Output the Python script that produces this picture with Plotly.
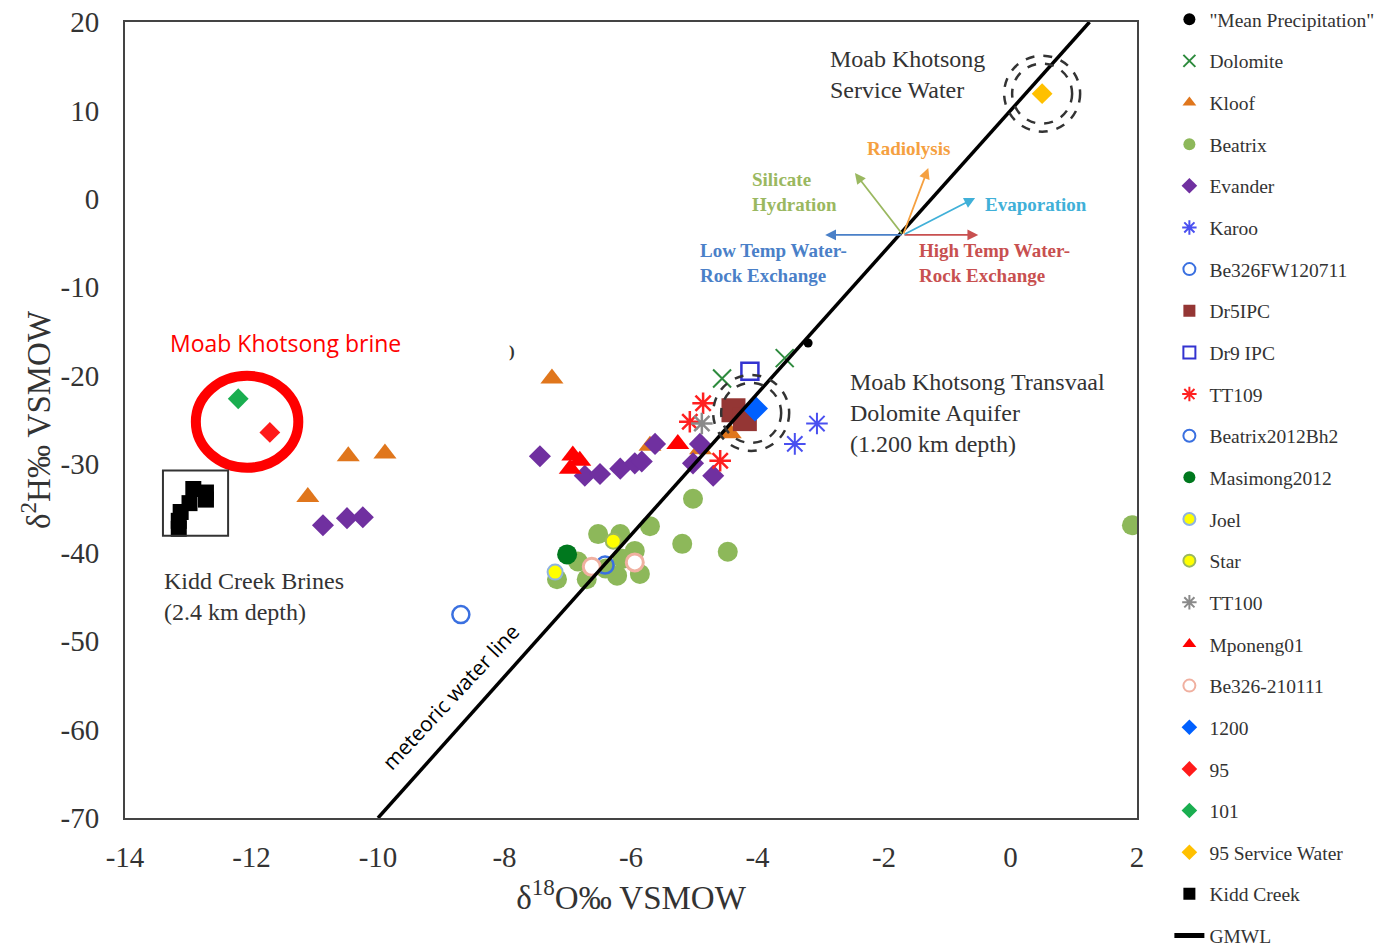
import plotly.graph_objects as go

# ---------------- data ----------------
mean_precip_x = [-3.2]
mean_precip_y = [-16.3]

dolomite_x = [-4.56, -3.57]
dolomite_y = [-20.3, -18.0]

kloof_x = [-11.11, -10.47, -9.89, -7.25, -5.70, -4.90, -4.43]
kloof_y = [-33.7, -29.1, -28.8, -20.3, -27.9, -28.3, -26.5]

beatrix_x = [-5.02, -5.70, -5.19, -4.47, -6.52, -6.17, -5.94, -7.17, -6.70,
             -6.22, -5.86, -6.84, -6.13, -6.40, 1.92]
beatrix_y = [-33.9, -37.0, -39.0, -39.9, -37.9, -37.9, -39.8, -43.0, -43.0,
             -42.6, -42.4, -41.0, -40.7, -41.8, -36.9]

evander_x = [-10.87, -10.49, -10.24, -7.44, -6.73, -6.49, -6.17, -5.94, -5.83,
             -5.62, -5.02, -4.91, -4.70]
evander_y = [-36.9, -36.1, -36.0, -29.1, -31.3, -31.1, -30.5, -29.9, -29.7,
             -27.7, -29.9, -27.7, -31.3]

karoo_x = [-3.41, -3.06]
karoo_y = [-27.7, -25.4]

be326fw_x = [-8.69]
be326fw_y = [-47.0]

dr5ipc_x = [-4.38, -4.20]
dr5ipc_y = [-23.9, -24.9]

dr9ipc_x = [-4.12]
dr9ipc_y = [-19.5]

tt109_x = [-4.86, -5.07, -4.59]
tt109_y = [-23.1, -25.2, -29.6]

beatrix2012_x = [-6.41]
beatrix2012_y = [-41.4]

masimong_x = [-7.01]
masimong_y = [-40.2]

joel_x = [-7.20]
joel_y = [-42.2]

star_x = [-6.28]
star_y = [-38.7]

tt100_x = [-4.88]
tt100_y = [-25.4]

mponeng_x = [-6.92, -6.81, -6.96, -5.26]
mponeng_y = [-29.0, -29.6, -30.5, -27.7]

be326_210111_x = [-6.62, -5.94]
be326_210111_y = [-41.6, -41.1]

s1200_x = [-4.04]
s1200_y = [-23.7]

s95_x = [-11.71]
s95_y = [-26.4]

s101_x = [-12.21]
s101_y = [-22.6]

service_x = [0.50]
service_y = [11.9]

kidd_x = [-12.92, -12.72, -12.72, -12.98, -13.12, -13.15, -13.15]
kidd_y = [-32.8, -33.2, -34.0, -34.4, -35.4, -36.4, -37.3]

gmwl_x = [-10.0, 1.25]
gmwl_y = [-70.0, 20.0]

x_ticks = [-14, -12, -10, -8, -6, -4, -2, 0, 2]
y_ticks = [20, 10, 0, -10, -20, -30, -40, -50, -60, -70]

SERIF = "Liberation Serif"

fig = go.Figure()

def add(name, xs, ys, symbol, color, size, line_color=None, line_width=0, fill=None):
    fig.add_trace(go.Scatter(
        x=xs, y=ys, mode="markers", name=name, legendgroup=name,
        marker=dict(symbol=symbol, size=size,
                    color=color if fill is None else fill,
                    line=dict(color=line_color if line_color else color, width=line_width)),
    ))

add('"Mean Precipitation"', mean_precip_x, mean_precip_y, "circle", "#000000", 9)
add("Dolomite", dolomite_x, dolomite_y, "x-thin-open", "#2e8b3e", 18, line_width=2)
add("Kloof", kloof_x, kloof_y, "triangle-up", "#e0761c", 20)
add("Beatrix", beatrix_x, beatrix_y, "circle", "#8db85a", 20)
add("Evander", evander_x, evander_y, "diamond", "#7030a0", 17)
add("Karoo", karoo_x, karoo_y, "asterisk-open", "#4a50f0", 18, line_width=2)
add("Be326FW120711", be326fw_x, be326fw_y, "circle-open", "#3a70e0", 17, line_width=2.5)
add("Dr5IPC", dr5ipc_x, dr5ipc_y, "square", "#943634", 24)
add("Dr9 IPC", dr9ipc_x, dr9ipc_y, "square-open", "#3333d0", 17, line_width=2.5)
add("TT109", tt109_x, tt109_y, "asterisk-open", "#ff2020", 18, line_width=2.5)
add("Beatrix2012Bh2", beatrix2012_x, beatrix2012_y, "circle-open", "#3a70e0", 17, line_width=2.5)
add("Masimong2012", masimong_x, masimong_y, "circle", "#00781e", 20)
add("Joel", joel_x, joel_y, "circle", "#ffff00", 15, line_color="#8fb3e0", line_width=2)
add("Star", star_x, star_y, "circle", "#ffff00", 15, line_color="#9ab860", line_width=2)
add("TT100", tt100_x, tt100_y, "asterisk-open", "#8a8a8a", 18, line_width=2.5)
add("Mponeng01", mponeng_x, mponeng_y, "triangle-up", "#ff0000", 20)
add("Be326-210111", be326_210111_x, be326_210111_y, "circle", "#ffffff", 17,
    line_color="#f0b0a0", line_width=3, fill="#ffffff")
add("1200", s1200_x, s1200_y, "diamond", "#0060ff", 20)
add("95", s95_x, s95_y, "diamond", "#ff1a1a", 16)
add("101", s101_x, s101_y, "diamond", "#1aae50", 16)
add("95 Service Water", service_x, service_y, "diamond", "#ffc000", 16)
add("Kidd Creek", kidd_x, kidd_y, "square", "#000000", 16)

fig.add_trace(go.Scatter(x=gmwl_x, y=gmwl_y, mode="lines", name="GMWL", legendgroup="GMWL",
                         line=dict(color="#000000", width=3.5)))

shapes = []
# double dashed circles
for cx, cy in [(0.50, 11.9), (-4.10, -24.2)]:
    for r in (38, 30):
        rx = r / 63.25
        ry = r / 8.844
        shapes.append(dict(type="circle", xref="x", yref="y",
                           x0=cx - rx, x1=cx + rx, y0=cy - ry, y1=cy + ry,
                           line=dict(color="#333333", width=2.5, dash="dash")))
# red ellipse around Moab Khotsong brine
shapes.append(dict(type="circle", xref="x", yref="y", x0=-12.88, x1=-11.26, y0=-30.4, y1=-20.0,
                   line=dict(color="#ff0000", width=10)))
# box around Kidd Creek
shapes.append(dict(type="rect", xref="x", yref="y", x0=-13.40, x1=-12.37, y0=-38.1, y1=-30.7,
                   line=dict(color="#333333", width=2)))

ann = []
ox, oy = -1.70, -4.08
arrows = [(-2.93, -4.08, "#4a80c8"), (-0.51, -4.08, "#c85050"), (-0.56, 0.10, "#40b0d8"),
          (-1.30, 3.49, "#f5a040"), (-2.46, 2.93, "#9ab860")]
for tx, ty, col in arrows:
    ann.append(dict(x=tx, y=ty, ax=ox, ay=oy, xref="x", yref="y", axref="x", ayref="y",
                    showarrow=True, arrowhead=2, arrowsize=1.2, arrowwidth=1.8, arrowcolor=col,
                    text=""))

def txt(x, y, s, size, color="#333333", bold=False, anchor="left", family=SERIF, angle=0):
    ann.append(dict(x=x, y=y, xref="x", yref="y", text=("<b>%s</b>" % s) if bold else s,
                    showarrow=False, xanchor=anchor, yanchor="middle", align="left",
                    textangle=angle,
                    font=dict(family=family, size=size, color=color)))

txt(-2.30, 5.75, "Radiolysis", 19, "#f5a040", True)
txt(-4.12, 0.78, "Silicate<br>Hydration", 19, "#9ab860", True)
txt(-0.44, -0.58, "Evaporation", 19, "#40b0d8", True)
txt(-4.94, -7.25, "Low Temp Water-<br>Rock Exchange", 19, "#4a80c8", True)
txt(-1.48, -7.25, "High Temp Water-<br>Rock Exchange", 19, "#c85050", True)
txt(-2.89, 14.1, "Moab Khotsong<br>Service Water", 24)
txt(-2.57, -24.2, "Moab Khotsong Transvaal<br>Dolomite Aquifer<br>(1.200 km depth)", 24)
txt(-13.41, -44.9, "Kidd Creek Brines<br>(2.4 km depth)", 24)
txt(-13.32, -16.3, "Moab Khotsong brine", 23, "#ff0000", family="Open Sans")
txt(-7.96, -17.3, ")", 17, "#333333", True)
ann.append(dict(x=-8.86, y=-56.3, xref="x", yref="y", text="meteoric water line", showarrow=False,
                textangle=-47, font=dict(family="Open Sans", size=21, color="#000000")))

fig.update_layout(
    width=1393, height=952, autosize=False,
    margin=dict(l=125, r=256, t=22, b=134, autoexpand=False),
    paper_bgcolor="white", plot_bgcolor="white",
    shapes=shapes, annotations=ann,
    showlegend=True,
    legend=dict(x=1.032, y=1.0276, xanchor="left", yanchor="top",
                traceorder="grouped", tracegroupgap=13.3, itemsizing="constant",
                maxheight=1100,
                font=dict(family=SERIF, size=19.5, color="#333333"), bgcolor="rgba(0,0,0,0)"),
    xaxis=dict(range=[-14, 2], tickvals=x_ticks, ticktext=[str(v) for v in x_ticks],
               showgrid=False, zeroline=False, showline=True, mirror=True,
               linecolor="#444444", linewidth=2, ticks="", ticklabelstandoff=12,
               tickfont=dict(family=SERIF, size=29, color="#333333"),
               title=dict(text="δ<sup>18</sup>O‰ VSMOW", standoff=14,
                          font=dict(family=SERIF, size=33, color="#333333"))),
    yaxis=dict(range=[-70, 20], tickvals=y_ticks, ticktext=[str(v) for v in y_ticks],
               showgrid=False, zeroline=False, showline=True, mirror=True,
               linecolor="#444444", linewidth=2, ticks="", ticklabelstandoff=18,
               tickfont=dict(family=SERIF, size=29, color="#333333"),
               title=dict(text="δ<sup>2</sup>H‰ VSMOW", standoff=0,
                          font=dict(family=SERIF, size=33, color="#333333"))),
)

fig.write_html("out.html", config={"displayModeBar": False},
               post_script="document.body.style.margin='0';document.body.style.overflow='hidden';")
